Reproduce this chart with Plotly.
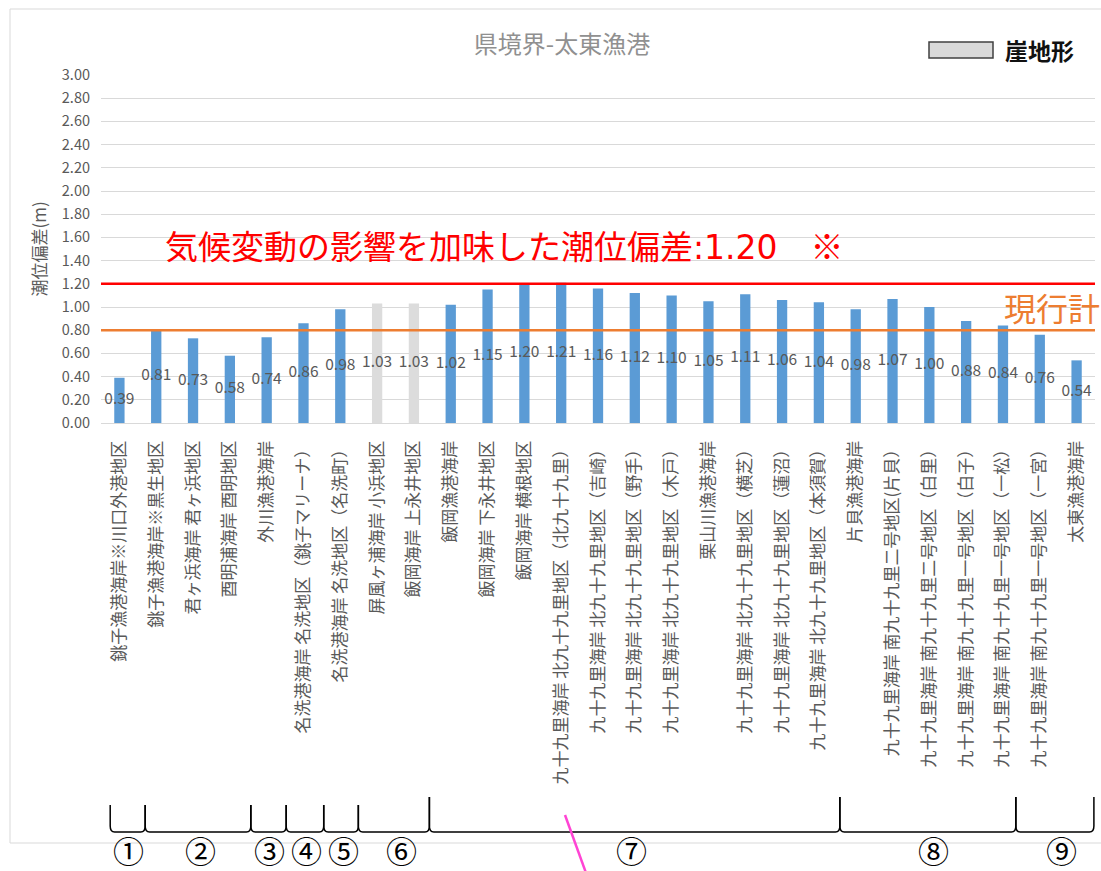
import plotly.graph_objects as go

# ---- data -------------------------------------------------------------
categories = [
    "銚子漁港海岸※川口外港地区",
    "銚子漁港海岸※黒生地区",
    "君ヶ浜海岸 君ヶ浜地区",
    "酉明浦海岸 酉明地区",
    "外川漁港海岸",
    "名洗港海岸 名洗地区（銚子マリーナ）",
    "名洗港海岸 名洗地区（名洗町）",
    "屏風ヶ浦海岸 小浜地区",
    "飯岡海岸 上永井地区",
    "飯岡漁港海岸",
    "飯岡海岸 下永井地区",
    "飯岡海岸 横根地区",
    "九十九里海岸 北九十九里地区（北九十九里）",
    "九十九里海岸 北九十九里地区（吉崎）",
    "九十九里海岸 北九十九里地区（野手）",
    "九十九里海岸 北九十九里地区（木戸）",
    "栗山川漁港海岸",
    "九十九里海岸 北九十九里地区（横芝）",
    "九十九里海岸 北九十九里地区（蓮沼）",
    "九十九里海岸 北九十九里地区（本須賀）",
    "片貝漁港海岸",
    "九十九里海岸 南九十九里二号地区(片貝）",
    "九十九里海岸 南九十九里二号地区（白里）",
    "九十九里海岸 南九十九里一号地区（白子）",
    "九十九里海岸 南九十九里一号地区（一松）",
    "九十九里海岸 南九十九里一号地区（一宮）",
    "太東漁港海岸",
]
values = [0.39, 0.81, 0.73, 0.58, 0.74, 0.86, 0.98, 1.03, 1.03, 1.02,
          1.15, 1.20, 1.21, 1.16, 1.12, 1.10, 1.05, 1.11, 1.06, 1.04,
          0.98, 1.07, 1.00, 0.88, 0.84, 0.76, 0.54]
cliff_sites = ["屏風ヶ浦海岸 小浜地区", "飯岡海岸 上永井地区"]

climate_level = 1.20   # 気候変動の影響を加味した潮位偏差
current_level = 0.80   # 現行計画

y_ticks = [round(0.2 * i, 2) for i in range(16)]

# area groups (boundaries given in category-index units)
group_names = ["①", "②", "③", "④", "⑤", "⑥", "⑦", "⑧", "⑨"]
group_bounds = [-0.25, 0.70, 3.57, 4.53, 5.55, 6.49, 8.42, 19.57, 24.35, 26.47]
group_label_x = [0.24, 2.2, 4.08, 5.08, 6.08, 7.66, 13.9, 22.1, 25.6]

# ---- layout geometry ---------------------------------------------------
W, H = 1101, 871
ML, MR, MT, MB = 101, 6, 75, 448
PW, PH = W - ML - MR, H - MT - MB


def px(x):
    return (x - ML) / PW


def py(y):
    return (H - MB - y) / PH


idx = list(range(len(categories)))
is_cliff = [c in cliff_sites for c in categories]

fig = go.Figure()
fig.add_trace(go.Bar(
    x=idx, y=[None if c else v for v, c in zip(values, is_cliff)],
    width=0.28, marker=dict(color="#5B9BD5", line=dict(width=0)),
    name="潮位偏差", showlegend=False,
))
fig.add_trace(go.Bar(
    x=idx, y=[v if c else None for v, c in zip(values, is_cliff)],
    width=0.28, marker=dict(color="#DCDCDC", line=dict(width=0)),
    name="崖地形", showlegend=False,
))
# value labels at the middle of each bar
fig.add_trace(go.Scatter(
    x=idx, y=[v / 2 for v in values], mode="text",
    text=[f"{v:.2f}" for v in values],
    textfont=dict(size=15.5, color="#595959"),
    showlegend=False, hoverinfo="skip", cliponaxis=False,
))

shapes = []
# chart frame
shapes.append(dict(type="rect", xref="paper", yref="paper",
                   x0=px(10), x1=px(1112), y0=py(843), y1=py(9),
                   line=dict(color="#D9D9D9", width=1), layer="below"))
# reference levels
shapes.append(dict(type="line", xref="paper", yref="y", x0=0, x1=1,
                   y0=climate_level, y1=climate_level,
                   line=dict(color="#FF0000", width=2.5)))
shapes.append(dict(type="line", xref="paper", yref="y", x0=0, x1=1,
                   y0=current_level, y1=current_level,
                   line=dict(color="#ED7D31", width=2.5)))

# group brackets under the labels
y_base = py(832)
r = py(826) - y_base
d = 0.12
tops = [py(805)] * 6 + [py(797)] * 4
for g in range(len(group_names)):
    xl, xr = group_bounds[g], group_bounds[g + 1]
    yl, yr = tops[g], tops[g + 1]
    path = (f"M {xl},{yl} L {xl},{y_base + r} Q {xl},{y_base} {xl + d},{y_base} "
            f"L {xr - d},{y_base} Q {xr},{y_base} {xr},{y_base + r} L {xr},{yr}")
    shapes.append(dict(type="path", xref="x", yref="paper", path=path,
                       line=dict(color="#000000", width=1.5)))

# pink marker stroke
shapes.append(dict(type="line", xref="paper", yref="paper",
                   x0=px(565), y0=py(815), x1=px(594), y1=py(895),
                   line=dict(color="#FF44D4", width=2.5)))

# legend swatch
shapes.append(dict(type="rect", xref="paper", yref="paper",
                   x0=px(929), x1=px(993), y0=py(58), y1=py(42),
                   fillcolor="#D9D9D9", line=dict(color="#404040", width=1.5)))

num_style = "font-family:'DejaVu Sans'"
annotations = [
    dict(text=f"気候変動の影響を加味した潮位偏差<span style=\"{num_style}\">:1.20</span>　※",
         xref="paper", yref="paper",
         x=px(163), y=py(245), xanchor="left", yanchor="middle", showarrow=False,
         font=dict(size=33, color="#FF0000")),
    dict(text="現行計", xref="paper", yref="paper",
         x=px(1002), y=py(307), xanchor="left", yanchor="middle", showarrow=False,
         font=dict(size=32, color="#ED7D31")),
    dict(text="<b>崖地形</b>", xref="paper", yref="paper",
         x=px(1003), y=py(50), xanchor="left", yanchor="middle", showarrow=False,
         font=dict(size=23, color="#111111")),
]
for name, gx in zip(group_names, group_label_x):
    annotations.append(dict(text=name, xref="x", yref="paper", x=gx, y=py(850),
                            xanchor="center", yanchor="middle", showarrow=False,
                            borderpad=0,
                            font=dict(size=31, color="#000000")))

fig.update_layout(
    width=W, height=H,
    margin=dict(l=ML, r=MR, t=MT, b=MB, pad=0),
    paper_bgcolor="white", plot_bgcolor="white",
    font=dict(family="Noto Sans CJK JP", color="#595959"),
    barmode="overlay",
    title=dict(text="県境界-太東漁港", x=562 / W, xref="container", xanchor="center",
               y=1 - 45 / H, yref="container", yanchor="middle",
               font=dict(size=24, color="#909090")),
    xaxis=dict(range=[-0.5, len(categories) - 0.5], tickmode="array",
               tickvals=idx, ticktext=categories, tickangle=-90,
               tickfont=dict(size=17, color="#595959"),
               showgrid=False, zeroline=False, showline=True,
               linecolor="#D9D9D9", linewidth=1, ticks="",
               ticklabelstandoff=10, fixedrange=True),
    yaxis=dict(range=[0, 3.0], tickmode="array", tickvals=y_ticks,
               ticktext=[f"{t:.2f}" for t in y_ticks],
               tickfont=dict(size=14.5, color="#595959"),
               gridcolor="#D9D9D9", gridwidth=1, zeroline=False,
               showline=False, ticks="", ticklabelstandoff=10,
               title=dict(text="潮位偏差(m)", font=dict(size=17, color="#595959"),
                          standoff=10)),
    shapes=shapes,
    annotations=annotations,
)

fig.write_html("out.html")
